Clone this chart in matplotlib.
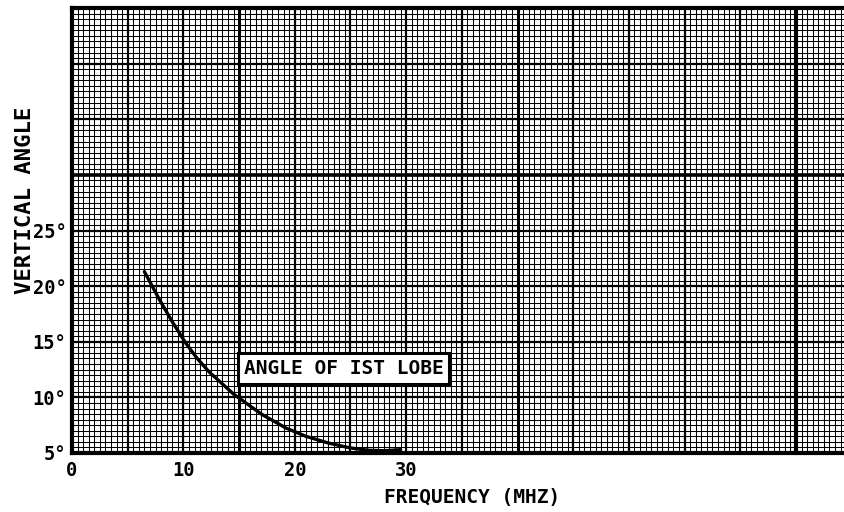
import numpy as np
import matplotlib
matplotlib.use("Agg")
import matplotlib.pyplot as plt

# Angle of the first lobe vs. frequency
freq_mhz = [6.5, 7.9, 9.0, 10.2, 11.2, 12.3, 14.5, 17.0, 19.2, 21.0, 23.0, 25.0, 26.6, 28.0, 29.5]
angle_deg = [21.3, 18.7, 16.8, 14.9, 13.55, 12.3, 10.3, 8.5, 7.25, 6.5, 5.9, 5.45, 5.25, 5.2, 5.3]

x_tick_values = [0, 10, 20, 30]
x_tick_labels = ["0", "10", "20", "30"]
y_tick_values = [5, 10, 15, 20, 25]
y_tick_labels = ["5°", "10°", "15°", "20°", "25°"]

FONT = {"family": "DejaVu Sans Mono", "weight": "bold"}

W, H = 845, 512
fig = plt.figure(figsize=(W / 100, H / 100), dpi=100)
left_px, right_px, top_px, bottom_px = 72, 845, 8, 453
ax = fig.add_axes([left_px / W, 1 - bottom_px / H,
                   (right_px - left_px) / W, (bottom_px - top_px) / H])

x_max = 69.4
ax.set_xlim(0, x_max)
ax.set_ylim(5, 45)

# graph-paper ruling: fine every 0.5, medium every 5, a few heavier lines
heavy_x = {15: 2.2, 40: 2.2, 65: 3.0}
heavy_y = {30: 2.6}
for v in np.arange(0, x_max + 0.01, 0.5):
    lw = 0.75
    if abs(v % 5) < 1e-6:
        lw = 1.6
    for h, hw in heavy_x.items():
        if abs(v - h) < 1e-6:
            lw = hw
    ax.axvline(v, color="black", lw=lw, zorder=1)
for v in np.arange(5, 45.01, 0.5):
    lw = 0.75
    if abs(v % 5) < 1e-6:
        lw = 1.6
    for h, hw in heavy_y.items():
        if abs(v - h) < 1e-6:
            lw = hw
    ax.axhline(v, color="black", lw=lw, zorder=1)

ax.plot(freq_mhz, angle_deg, color="black", lw=2.4,
        solid_capstyle="round", solid_joinstyle="round", zorder=3)

ax.text(24.4, 12.6, "ANGLE OF IST LOBE", ha="center", va="center",
        fontsize=14, zorder=5, **FONT,
        bbox=dict(boxstyle="square,pad=0.3", facecolor="white",
                  edgecolor="black", lw=2.2))

ax.set_xticks(x_tick_values)
ax.set_xticklabels(x_tick_labels, fontsize=13.5, **FONT)
ax.set_yticks(y_tick_values)
ax.set_yticklabels(y_tick_labels, fontsize=13.5, **FONT)
ax.tick_params(axis="both", length=0)
ax.tick_params(axis="x", pad=6)
ax.tick_params(axis="y", pad=4)

for side in ("left", "bottom", "top"):
    ax.spines[side].set_linewidth(3)
    ax.spines[side].set_zorder(6)
ax.spines["right"].set_visible(False)

fig.text(472 / W, 1 - 497 / H, "FREQUENCY (MHZ)", ha="center", va="center",
         fontsize=14, **FONT)
fig.text(25 / W, 1 - 200 / H, "VERTICAL ANGLE", ha="center", va="center",
         rotation=90, fontsize=16, **FONT)

fig.savefig("out.png", dpi=100)
